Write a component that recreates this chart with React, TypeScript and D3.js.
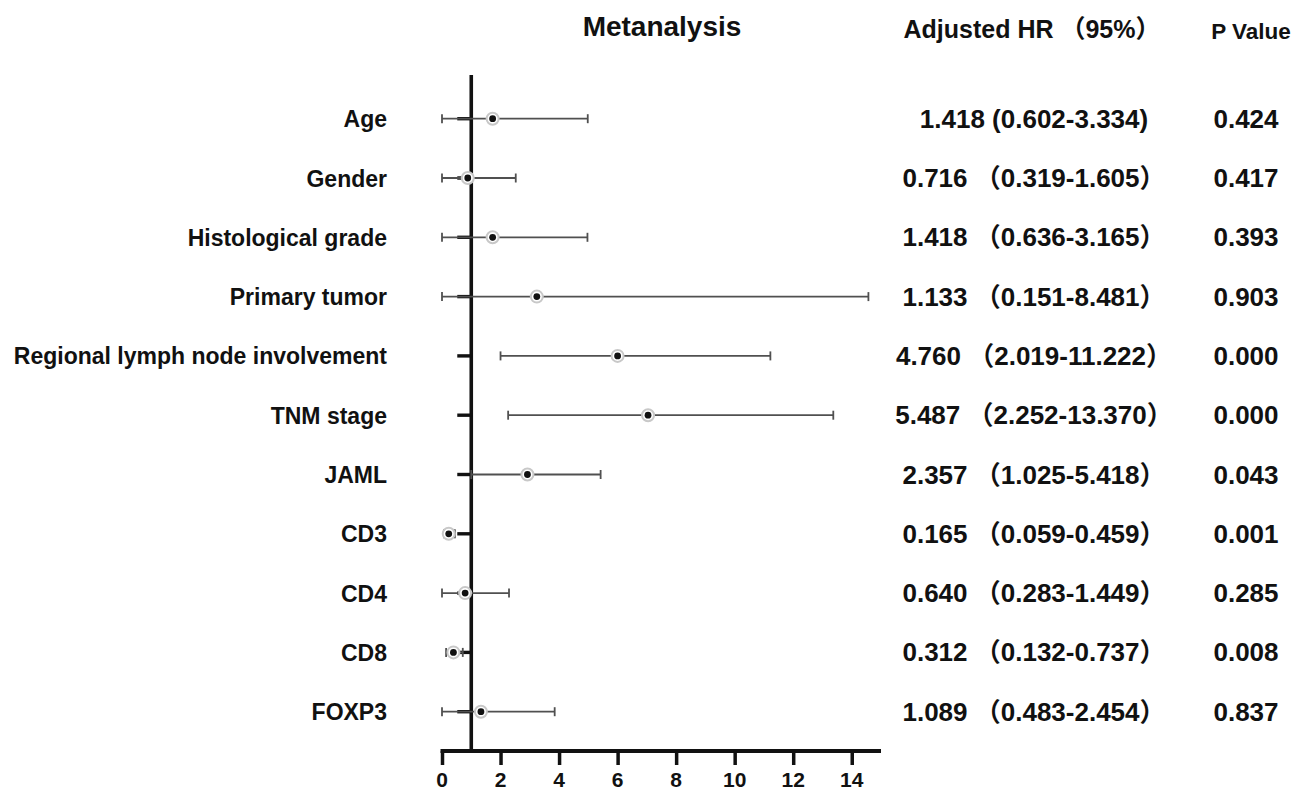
import React, { useEffect, useRef } from 'react';
import * as d3 from 'd3';

const width = 1297;
const height = 792;

// rows, top to bottom
const factors = [
  'Age', 'Gender', 'Histological grade', 'Primary tumor', 'Regional lymph node involvement',
  'TNM stage', 'JAML', 'CD3', 'CD4', 'CD8', 'FOXP3',
];
// plotted point and whiskers
const hrPoint = [1.73, 0.88, 1.73, 3.24, 6.0, 7.04, 2.92, 0.23, 0.79, 0.39, 1.33];
const ciLow = [0, 0, 0, 0, 2.0, 2.26, 1.0, 0.07, 0, 0.14, 0];
const ciHigh = [4.98, 2.52, 4.97, 14.57, 11.22, 13.37, 5.42, 0.44, 2.29, 0.71, 3.85];

const hrText = [
  '1.418 (0.602-3.334)',
  '0.716 （0.319-1.605）',
  '1.418 （0.636-3.165）',
  '1.133 （0.151-8.481）',
  '4.760 （2.019-11.222）',
  '5.487 （2.252-13.370）',
  '2.357 （1.025-5.418）',
  '0.165 （0.059-0.459）',
  '0.640 （0.283-1.449）',
  '0.312 （0.132-0.737）',
  '1.089 （0.483-2.454）',
];
const pValues = ['0.424', '0.417', '0.393', '0.903', '0.000', '0.000', '0.043', '0.001', '0.285', '0.008', '0.837'];
const xTicks = [0, 2, 4, 6, 8, 10, 12, 14];

const font = "'Liberation Sans', Arial, 'Noto Sans CJK SC', sans-serif";
const ink = '#111';

const xScale = d3.scaleLinear().domain([0, 15]).range([442, 881]);
const yScale = d3.scaleLinear().domain([0, factors.length - 1]).range([118.7, 711.7]);
const axisY = 751;
const refLine = 1;

export default function App() {
  const xAxisRef = useRef<SVGGElement>(null);

  useEffect(() => {
    const axis = d3.axisBottom(xScale).tickValues(xTicks).tickSize(14).tickFormat(() => '');
    const g = d3.select(xAxisRef.current).call(axis);
    g.select('.domain').remove();
    g.selectAll('.tick line').attr('stroke', ink).attr('stroke-width', 3.5);
  }, []);

  return (
    <svg width={width} height={height} style={{ position: 'absolute', left: 0, top: 0, background: '#fff' }}>
      {/* headers */}
      <text x={662} y={36} textAnchor="middle" fontFamily={font} fontWeight="bold" fontSize={28} fill={ink}>Metanalysis</text>
      <text x={1032} y={38} textAnchor="middle" fontFamily={font} fontWeight="bold" fontSize={25} fill={ink}>Adjusted HR （95%）</text>
      <text x={1251} y={39} textAnchor="middle" fontFamily={font} fontWeight="bold" fontSize={22.5} fill={ink}>P Value</text>

      {/* y axis at HR = 1 with row ticks */}
      <line x1={xScale(refLine)} x2={xScale(refLine)} y1={75} y2={axisY} stroke={ink} strokeWidth={3.6} />
      {factors.map((f, i) => (
        <line key={`yt-${f}`} x1={xScale(refLine) - 14} x2={xScale(refLine)} y1={yScale(i)} y2={yScale(i)} stroke={ink} strokeWidth={3.4} />
      ))}

      {/* x axis */}
      <line x1={xScale(0) - 1.5} x2={xScale(15)} y1={axisY} y2={axisY} stroke={ink} strokeWidth={4} />
      <g ref={xAxisRef} transform={`translate(0, ${axisY})`} />
      {xTicks.map((t) => (
        <text key={`xl-${t}`} x={xScale(t)} y={787} textAnchor="middle" fontFamily={font} fontWeight="bold" fontSize={21} fill={ink}>{t}</text>
      ))}

      {/* whiskers */}
      {factors.map((f, i) => {
        const y = yScale(i);
        return (
          <g key={`ci-${f}`} stroke="#505050" strokeWidth={1.8}>
            <line x1={xScale(ciLow[i])} x2={xScale(ciHigh[i])} y1={y} y2={y} />
            <line x1={xScale(ciLow[i])} x2={xScale(ciLow[i])} y1={y - 4.5} y2={y + 4.5} />
            <line x1={xScale(ciHigh[i])} x2={xScale(ciHigh[i])} y1={y - 4.5} y2={y + 4.5} />
          </g>
        );
      })}

      {/* points */}
      {factors.map((f, i) => (
        <g key={`pt-${f}`}>
          <circle cx={xScale(hrPoint[i])} cy={yScale(i)} r={6} fill="#fff" stroke="#c8c8c8" strokeWidth={2} />
          <circle cx={xScale(hrPoint[i])} cy={yScale(i)} r={3.4} fill={ink} />
        </g>
      ))}

      {/* row labels and table */}
      {factors.map((f, i) => (
        <g key={`tx-${f}`} fontFamily={font} fontWeight="bold" fill={ink}>
          <text x={387} y={yScale(i) + 8.5} textAnchor="end" fontSize={23}>{f}</text>
          <text x={1034} y={yScale(i) + 9} textAnchor="middle" fontSize={26}>{hrText[i]}</text>
          <text x={1246} y={yScale(i) + 9} textAnchor="middle" fontSize={26}>{pValues[i]}</text>
        </g>
      ))}
    </svg>
  );
}
